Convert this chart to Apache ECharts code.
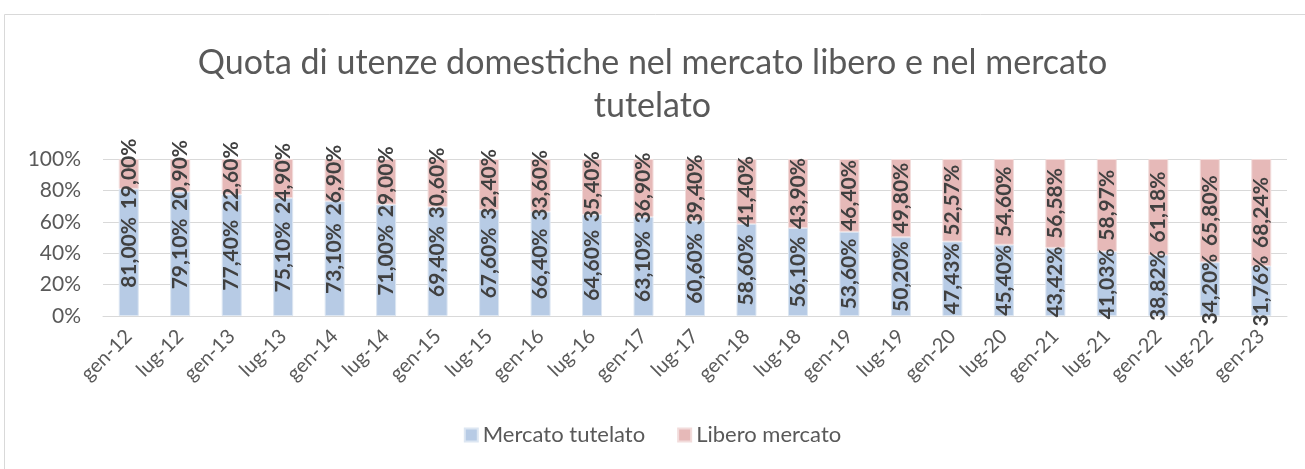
<!DOCTYPE html>
<html><head><meta charset="utf-8">
<script src="https://cdn.jsdelivr.net/npm/echarts@6/dist/echarts.min.js"></script>
<style>html,body{margin:0;padding:0;background:#fff}#c{width:1305px;height:469px}</style>
</head><body><div id="c"></div>
<script>
const categories = ['gen-12','lug-12','gen-13','lug-13','gen-14','lug-14','gen-15','lug-15','gen-16','lug-16','gen-17','lug-17','gen-18','lug-18','gen-19','lug-19','gen-20','lug-20','gen-21','lug-21','gen-22','lug-22','gen-23'];
const tutelato = [81.00,79.10,77.40,75.10,73.10,71.00,69.40,67.60,66.40,64.60,63.10,60.60,58.60,56.10,53.60,50.20,47.43,45.40,43.42,41.03,38.82,34.20,31.76];
const libero = [19.00,20.90,22.60,24.90,26.90,29.00,30.60,32.40,33.60,35.40,36.90,39.40,41.40,43.90,46.40,49.80,52.57,54.60,56.58,58.97,61.18,65.80,68.24];
const yTicks = [0,20,40,60,80,100];

const FONT = 'Lato, "Open Sans", sans-serif';
const fmt = p => p.value.toFixed(2).replace('.', ',') + '%';
const labelStyle = {show:true, position:'inside', rotate:90, formatter:fmt, fontFamily:FONT, fontSize:21, fontWeight:'bold', color:'#404040'};

const chart = echarts.init(document.getElementById('c'));
chart.setOption({
  animation:false,
  textStyle:{fontFamily:FONT},
  graphic:[{type:'rect', shape:{x:4.5,y:14.5,width:1310,height:470}, style:{fill:'none', stroke:'#d9d9d9', lineWidth:1}, silent:true}],
  title:{text:'Quota di utenze domestiche nel mercato libero e nel mercato\ntutelato', left:'center', top:37,
    textStyle:{fontFamily:FONT, fontSize:34, fontWeight:'normal', color:'#595959', lineHeight:43}},
  legend:{bottom:18, left:'center', itemWidth:13, itemHeight:13, itemGap:32, icon:'rect',
    textStyle:{fontFamily:FONT, fontSize:22, color:'#595959'}},
  grid:{left:103, right:18, top:159, bottom:153},
  xAxis:{type:'category', data:categories, axisTick:{show:false},
    axisLine:{lineStyle:{color:'#d9d9d9', width:1}},
    axisLabel:{rotate:45, fontFamily:FONT, fontSize:20, color:'#595959', margin:17, interval:0}},
  yAxis:{type:'value', min:0, max:100, interval:20,
    axisLabel:{formatter:v => yTicks.includes(v) ? v + '%' : '', fontFamily:FONT, fontSize:21, color:'#595959', margin:22},
    splitLine:{lineStyle:{color:'#d9d9d9', width:1}}, axisLine:{show:false}, axisTick:{show:false}},
  series:[
    {name:'Mercato tutelato', type:'bar', stack:'a', data:tutelato, barWidth:20,
      itemStyle:{color:'#b7cbe5', borderColor:'#dce6f2', borderWidth:1}, label:labelStyle},
    {name:'Libero mercato', type:'bar', stack:'a', data:libero, barWidth:20,
      itemStyle:{color:'#e6b9b8', borderColor:'#f2dcdb', borderWidth:1}, label:labelStyle}
  ]
});
</script></body></html>
